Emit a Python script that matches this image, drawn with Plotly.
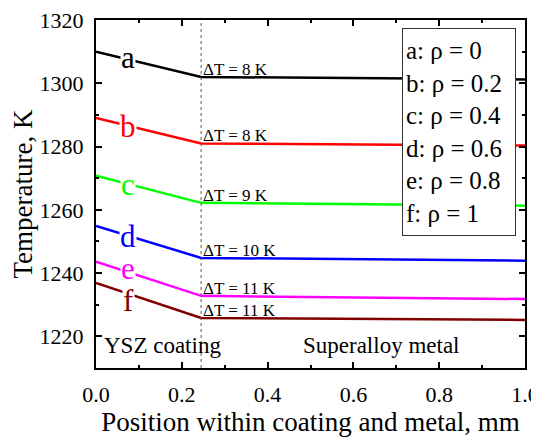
import plotly.graph_objects as go

# ---- data ----
x_pos = [0.0, 0.245, 1.0]
series_names = ["a", "b", "c", "d", "e", "f"]
series_colors = ["#000000", "#ff0000", "#00ff00", "#0000ff", "#ff00ff", "#800000"]
temp_a = [1310.0, 1302.0, 1301.2]
temp_b = [1289.0, 1281.0, 1280.3]
temp_c = [1270.8, 1262.2, 1261.3]
temp_d = [1254.9, 1244.8, 1243.9]
temp_e = [1243.6, 1232.8, 1231.8]
temp_f = [1236.9, 1225.8, 1225.2]
series_values = [temp_a, temp_b, temp_c, temp_d, temp_e, temp_f]
delta_t = [8, 8, 9, 10, 11, 11]
rho_values = ["0", "0.2", "0.4", "0.6", "0.8", "1"]
label_x = 0.075
label_y = [1308.3, 1286.2, 1268.0, 1251.6, 1241.6, 1231.2]
interface_x = 0.245
region_labels = ["YSZ coating", "Superalloy metal"]

FONT = "Liberation Serif, Times New Roman, serif"

fig = go.Figure()
for name, col, vals in zip(series_names, series_colors, series_values):
    fig.add_trace(go.Scatter(x=x_pos, y=vals, mode="lines", name=name,
                             line=dict(color=col, width=2.5), showlegend=False,
                             hoverinfo="skip"))

# interface dotted line
fig.add_shape(type="line", x0=interface_x, x1=interface_x, y0=1210, y1=1320,
              xref="x", yref="y", line=dict(color="#555555", width=1, dash="dot"))

annotations = []
# series letters
for name, col, ly in zip(series_names, series_colors, label_y):
    annotations.append(dict(x=label_x, y=ly, xref="x", yref="y", text=name,
                            showarrow=False, font=dict(family=FONT, size=31, color=col),
                            bgcolor="white", borderpad=0, xanchor="center", yanchor="middle"))
# delta T labels
for vals, dt in zip(series_values, delta_t):
    annotations.append(dict(x=interface_x, y=vals[1], xref="x", yref="y",
                            text=f"\u0394T = {dt} K", showarrow=False,
                            font=dict(family=FONT, size=17, color="black"),
                            xanchor="left", yanchor="bottom", xshift=0, yshift=-4))
# region labels
annotations.append(dict(x=0.015, y=1217, xref="x", yref="y", text=region_labels[0],
                        showarrow=False, font=dict(family=FONT, size=23, color="black"),
                        xanchor="left", yanchor="middle"))
annotations.append(dict(x=0.665, y=1217, xref="x", yref="y", text=region_labels[1],
                        showarrow=False, font=dict(family=FONT, size=23, color="black"),
                        xanchor="center", yanchor="middle"))
# legend box
legend_text = "<br>".join(f"{n}: \u03c1 = {r}" for n, r in zip(series_names, rho_values))
annotations.append(dict(x=0.713, y=0.977, xref="paper", yref="paper", text=legend_text,
                        showarrow=False, align="left", valign="middle",
                        font=dict(family=FONT, size=25, color="black"),
                        bgcolor="white", bordercolor="#333333", borderwidth=1,
                        borderpad=3, width=106, height=200,
                        xanchor="left", yanchor="top"))

# page body has an 8px margin: shrink figure and shift left/top margins to compensate
fig.update_layout(
    width=531, height=429,
    margin=dict(l=88, r=14, t=12, b=69),
    plot_bgcolor="white", paper_bgcolor="white",
    font=dict(family=FONT, size=22, color="black"),
    annotations=annotations,
    showlegend=False,
)
fig.update_xaxes(range=[0, 1.0], dtick=0.2, tick0=0, tickformat=".1f",
                 showline=True, linewidth=2, linecolor="black", mirror="allticks",
                 ticks="inside", ticklen=6, tickwidth=1.5, tickcolor="black",
                 minor=dict(dtick=0.1, ticks="inside", ticklen=3, tickcolor="black"),
                 showgrid=False, zeroline=False, ticklabelstandoff=6, automargin=False,
                 ticklabeloverflow="allow",
                 title=dict(text="Position within coating and metal, mm",
                            font=dict(family=FONT, size=27), standoff=16))
fig.update_yaxes(range=[1210, 1320], dtick=20, tick0=1220,
                 showline=True, linewidth=2, linecolor="black", mirror="allticks",
                 ticks="inside", ticklen=6, tickwidth=1.5, tickcolor="black",
                 minor=dict(dtick=10, ticks="inside", ticklen=3, tickcolor="black"),
                 showgrid=False, zeroline=False, ticklabelstandoff=6, automargin=False,
                 ticklabeloverflow="allow",
                 title=dict(text="Temperature, K", font=dict(family=FONT, size=27), standoff=14))

fig.write_html("out.html")
